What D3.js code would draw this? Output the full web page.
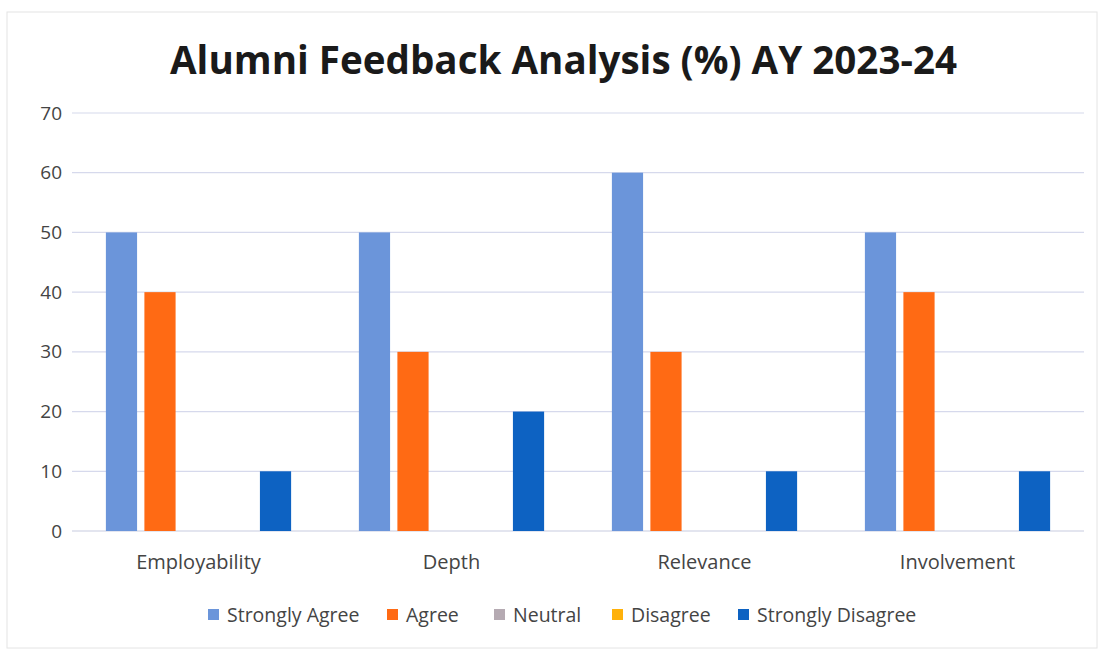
<!DOCTYPE html>
<html><head><meta charset="utf-8">
<script src="https://cdn.jsdelivr.net/npm/d3@7"></script>
<style>body{margin:0;background:#fff}svg{display:block}</style>
</head><body>
<svg id="c" width="1103" height="652"></svg>
<script>
const categories = ["Employability", "Depth", "Relevance", "Involvement"];
const seriesNames = ["Strongly Agree", "Agree", "Neutral", "Disagree", "Strongly Disagree"];
const stronglyAgree = [50, 50, 60, 50];
const agree = [40, 30, 30, 40];
const neutral = [0, 0, 0, 0];
const disagree = [0, 0, 0, 0];
const stronglyDisagree = [10, 20, 10, 10];
const yTicks = [0, 10, 20, 30, 40, 50, 60, 70];
const colors = ["#6b95da", "#ff6a14", "#b5aab2", "#ffb10a", "#0d62c2"];

const values = [stronglyAgree, agree, neutral, disagree, stronglyDisagree];
const svg = d3.select("#c");
const font = "'Open Sans', 'Liberation Sans', sans-serif";

svg.append("rect").attr("x", 7).attr("y", 12).attr("width", 1090).attr("height", 636)
  .attr("fill", "#fff").attr("stroke", "#e4e4e4");

svg.append("text").attr("x", 170).attr("y", 74)
  .attr("font-family", font).attr("font-weight", "700").attr("font-size", 40)
  .attr("textLength", 787).attr("lengthAdjust", "spacingAndGlyphs")
  .attr("fill", "#1a1a1a").text("Alumni Feedback Analysis (%) AY 2023-24");

const x0 = d3.scaleBand().domain(categories).range([72, 1084]);
const x1 = d3.scaleBand().domain(seriesNames).range([0, x0.bandwidth()]).paddingInner(0.19).paddingOuter(0.88);
const y = d3.scaleLinear().domain([0, 70]).range([531, 113]);

const grid = svg.append("g");
grid.selectAll("line").data(yTicks).join("line")
  .attr("x1", 72).attr("x2", 1084).attr("y1", d => y(d)).attr("y2", d => y(d))
  .attr("stroke", d => d === 0 ? "#c8cbe0" : "#d6d9ec").attr("stroke-width", 1.2);

const yAxis = svg.append("g").attr("transform", "translate(62,0)")
  .call(d3.axisLeft(y).tickValues(yTicks).tickSize(0).tickPadding(0));
yAxis.select(".domain").remove();
yAxis.selectAll("text").attr("font-family", font).attr("font-size", 19).attr("fill", "#444");

const groups = svg.append("g").selectAll("g").data(categories).join("g")
  .attr("transform", d => `translate(${x0(d)},0)`);
groups.selectAll("rect").data((c, i) => seriesNames.map((s, k) => ({s, k, v: values[k][i]})))
  .join("rect")
  .attr("x", d => x1(d.s)).attr("width", x1.bandwidth())
  .attr("y", d => y(d.v)).attr("height", d => y(0) - y(d.v))
  .attr("fill", d => colors[d.k]);

const xAxis = svg.append("g").attr("transform", "translate(0,531)")
  .call(d3.axisBottom(x0).tickSize(0).tickPadding(24));
xAxis.select(".domain").remove();
xAxis.selectAll("text").attr("font-family", font).attr("font-size", 20).attr("fill", "#444");

const legendX = [208, 387, 494, 612, 738];
const lg = svg.append("g").selectAll("g").data(seriesNames).join("g")
  .attr("transform", (d, i) => `translate(${legendX[i]},615)`);
lg.append("rect").attr("x", 0).attr("y", -6).attr("width", 11).attr("height", 11)
  .attr("fill", (d, i) => colors[i]);
lg.append("text").attr("x", 19).attr("y", 0).attr("dy", "0.35em")
  .attr("font-family", font).attr("font-size", 19.5).attr("fill", "#444").text(d => d);
</script>
</body></html>
